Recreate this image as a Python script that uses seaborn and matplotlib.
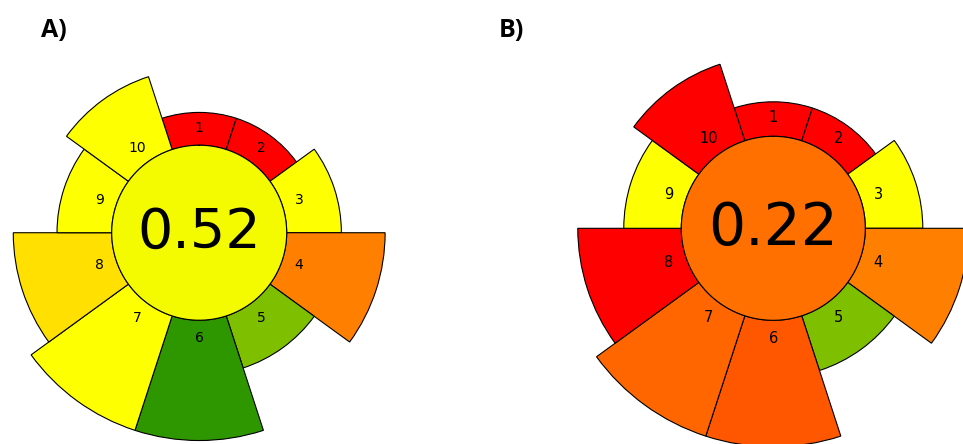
import numpy as np
import matplotlib
matplotlib.use("Agg")
import matplotlib.pyplot as plt
from matplotlib.colors import LinearSegmentedColormap
import seaborn as sns

# criteria 1..10, read clockwise from the top
criteria = [1, 2, 3, 4, 5, 6, 7, 8, 9, 10]
weights = [1, 1, 2, 4, 2, 5, 5, 4, 2, 3]

scores_a = [0.0, 0.0, 0.5, 0.25, 0.75, 0.91, 0.5, 0.44, 0.5, 0.5]
scores_b = [0.0, 0.0, 0.5, 0.25, 0.75, 0.17, 0.2, 0.0, 0.5, 0.0]
total_a = 0.52
total_b = 0.22

panel_labels = ["A)", "B)"]

sns.set_style("white")
plt.rcParams['font.family'] = ['DejaVu Sans']
plt.rcParams['text.color'] = 'black'

cmap = LinearSegmentedColormap.from_list("agree", ["red", "yellow", "green"])


def draw_pictogram(ax, scores, total, num_size, center_size):
    ax.set_theta_zero_location('N')
    ax.set_theta_direction(-1)
    width = np.deg2rad(36)
    thetas = np.deg2rad(36 * (np.array(criteria) - 1))
    heights = 0.125 + 0.25 * np.array(weights)

    ax.bar(thetas, heights, width=width, bottom=1.0,
           color=[cmap(s) for s in scores], edgecolor='black', linewidth=0.8)

    # central disc with the overall score
    ax.bar(0, 1.0, width=2 * np.pi, bottom=0, color=cmap(total), linewidth=0)
    circ = np.linspace(0, 2 * np.pi, 400)
    ax.plot(circ, np.ones_like(circ), color='black', lw=0.8, zorder=3)

    for th, c in zip(thetas, criteria):
        ax.text(th, 1.2, str(c), ha='center', va='center', fontsize=num_size,
                color='black', zorder=4)
    ax.text(0, 0, f"{total:.2f}", ha='center', va='center', fontsize=center_size,
            color='black', zorder=4)

    ax.set_ylim(0, 2.4)
    ax.set_axis_off()


fig = plt.figure(figsize=(9.63, 4.44), dpi=100)

ax_a = fig.add_axes([-0.0112, 0.0029, 0.4361, 0.9459], projection='polar')
draw_pictogram(ax_a, scores_a, total_a, 10, 40)

ax_b = fig.add_axes([0.5737, -0.0115, 0.4586, 0.9946], projection='polar')
draw_pictogram(ax_b, scores_b, total_b, 10.5, 42)

for x_px, lab in zip([41, 499], panel_labels):
    fig.text(x_px / 963, 1 - 37 / 444, lab, fontsize=18, fontweight='bold',
             family=['Open Sans', 'DejaVu Sans'], color='black',
             va='baseline', ha='left')

fig.savefig("out.png", dpi=100)
